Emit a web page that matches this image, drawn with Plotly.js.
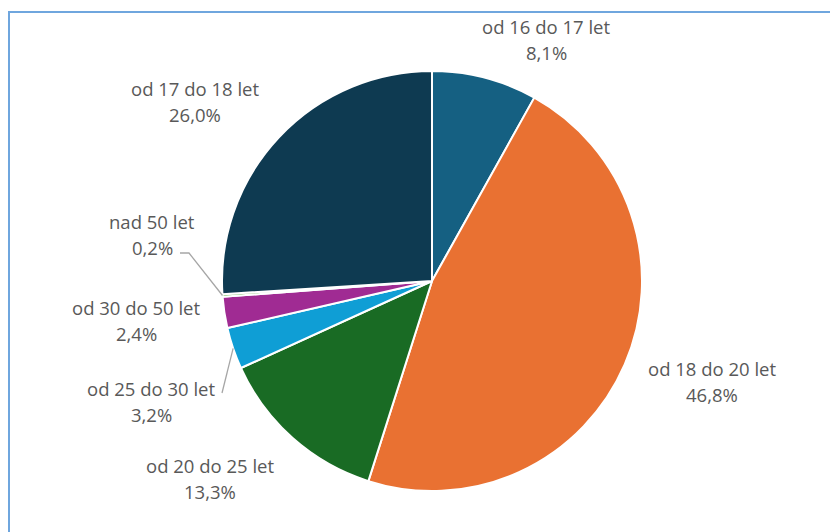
<!DOCTYPE html>
<html>
<head>
<meta charset="utf-8">
<script src="https://cdn.plot.ly/plotly-3.0.1.min.js"></script>
<style>
  html, body { margin: 0; padding: 0; background: #ffffff; }
  #chart { width: 830px; height: 532px; }
</style>
</head>
<body>
<div id="chart"></div>
<script>
// ---- data ----
const categories = ['od 16 do 17 let', 'od 18 do 20 let', 'od 20 do 25 let', 'od 25 do 30 let', 'od 30 do 50 let', 'nad 50 let', 'od 17 do 18 let'];
const shares = [8.1, 46.8, 13.3, 3.2, 2.4, 0.2, 26.0];

// ---- styles / layout ----
const sliceColors = ['#156082', '#E97132', '#196B24', '#0F9ED5', '#A02B93', '#4EA72E', '#0E3A51'];
const W = 830, H = 532;
const PIE_CX = 432, PIE_CY = 281, PIE_R = 210;
const FONT = 'Open Sans, Lato, sans-serif';
const FONT_SIZE = 18.5;
const TEXT_COLOR = '#595959';
const LINE_GAP = 26.5;
// label anchor (center x, first-line y) in pixels
const labelPos = [[546, 26], [712, 368], [210, 465], [151, 388], [136, 307], [152, 221], [195, 88]];
// leader line end points (label side) in pixels, null = no leader
const leaderEnds = [null, null, null, [[222, 393]], null, [[189, 253], [180, 253]], null];

const px = x => x / W;
const py = y => 1 - y / H;

const total = shares.reduce((a, b) => a + b, 0);
let cum = 0;
const midAngles = shares.map(v => { const m = (cum + v / 2) / total * 360; cum += v; return m; });

const annotations = [];
categories.forEach((c, i) => {
  const [x, y] = labelPos[i];
  const pct = shares[i].toFixed(1).replace('.', ',') + '%';
  annotations.push({ x: px(x), y: py(y), xref: 'paper', yref: 'paper', text: c, showarrow: false,
    xanchor: 'center', yanchor: 'middle', font: { family: FONT, size: FONT_SIZE, color: TEXT_COLOR } });
  annotations.push({ x: px(x), y: py(y + LINE_GAP), xref: 'paper', yref: 'paper', text: pct, showarrow: false,
    xanchor: 'center', yanchor: 'middle', font: { family: FONT, size: FONT_SIZE, color: TEXT_COLOR } });
});

const shapes = [];
// chart frame (left + top)
shapes.push({ type: 'path', xref: 'paper', yref: 'paper',
  path: `M ${px(9)} ${py(540)} L ${px(9)} ${py(12)} L ${px(840)} ${py(12)}`,
  line: { color: '#6FA6DE', width: 2 } });

leaderEnds.forEach((pts, i) => {
  if (!pts) return;
  const a = midAngles[i] * Math.PI / 180;
  const sx = PIE_CX + PIE_R * Math.sin(a);
  const sy = PIE_CY - PIE_R * Math.cos(a);
  let d = `M ${px(sx)} ${py(sy)}`;
  pts.forEach(p => { d += ` L ${px(p[0])} ${py(p[1])}`; });
  shapes.push({ type: 'path', xref: 'paper', yref: 'paper', path: d,
    line: { color: '#A6A6A6', width: 1.3 } });
});

const trace = {
  type: 'pie',
  labels: categories,
  values: shares,
  sort: false,
  direction: 'clockwise',
  rotation: 0,
  textinfo: 'none',
  hoverinfo: 'label+percent',
  marker: { colors: sliceColors, line: { color: '#ffffff', width: 2 } },
  domain: { x: [px(PIE_CX - PIE_R), px(PIE_CX + PIE_R)], y: [py(PIE_CY + PIE_R), py(PIE_CY - PIE_R)] }
};

const layout = {
  width: W, height: H,
  margin: { l: 0, r: 0, t: 0, b: 0 },
  paper_bgcolor: '#ffffff',
  showlegend: false,
  annotations: annotations,
  shapes: shapes
};

Plotly.newPlot('chart', [trace], layout, { displayModeBar: false, staticPlot: true });
</script>
</body>
</html>
